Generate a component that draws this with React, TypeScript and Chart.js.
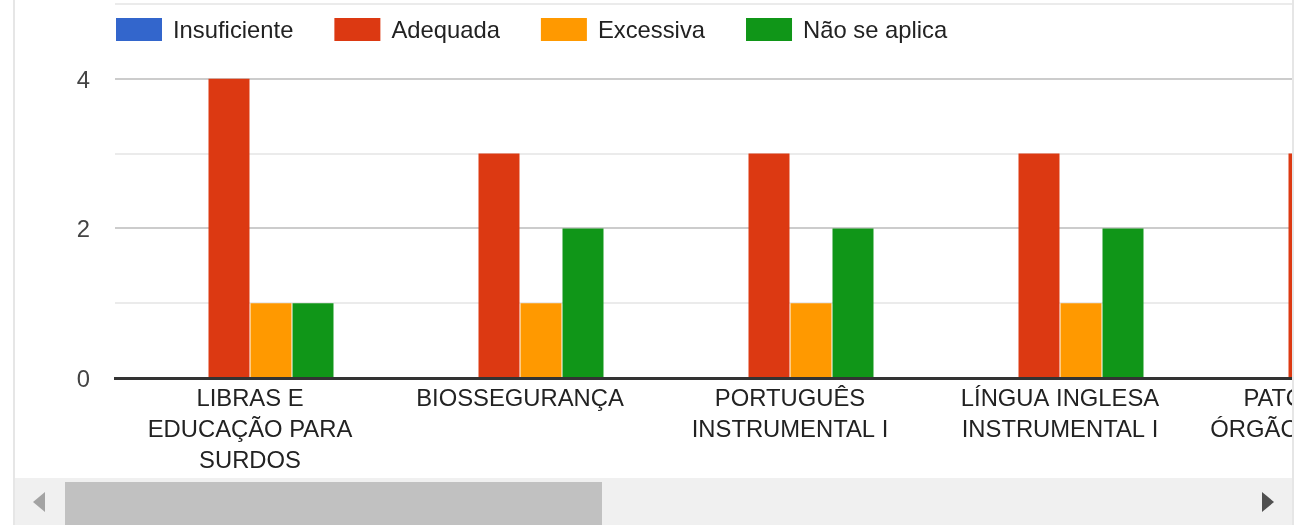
import React, { useEffect, useRef } from "react";
import { Chart, registerables } from "chart.js";

Chart.register(...registerables);

// ---- data ----
const categories: string[][] = [
  ["LIBRAS E", "EDUCAÇÃO PARA", "SURDOS"],
  ["BIOSSEGURANÇA"],
  ["PORTUGUÊS", "INSTRUMENTAL I"],
  ["LÍNGUA INGLESA", "INSTRUMENTAL I"],
  ["PATOLOGIA DE", "ÓRGÃOS E TECIDOS"],
];
const seriesNames = ["Insuficiente", "Adequada", "Excessiva", "Não se aplica"];
const insuficiente = [0, 0, 0, 0, 0];
const adequada = [4, 3, 3, 3, 3];
const excessiva = [1, 1, 1, 1, null];
const naoSeAplica = [1, 2, 2, 2, null];
const yTicks = [0, 2, 4];

const COLORS = ["#3366cc", "#dc3912", "#ff9900", "#109618"];
const FAMILY = "'Liberation Sans', Arial, Helvetica, sans-serif";
const FS = 23.8;

const legendPlugin = {
  id: "gLegend",
  afterDraw(chart: any) {
    const ctx = chart.ctx;
    ctx.save();
    ctx.font = `${FS}px ${FAMILY}`;
    ctx.textBaseline = "middle";
    ctx.textAlign = "left";
    let x = 101;
    const top = 18;
    chart.data.datasets.forEach((ds: any) => {
      ctx.fillStyle = ds.backgroundColor;
      ctx.fillRect(x, top, 46, 23);
      ctx.fillStyle = "#222222";
      ctx.fillText(ds.label, x + 57, top + 13);
      x += 57 + ctx.measureText(ds.label).width + 41;
    });
    ctx.restore();
  },
};

function BarChart() {
  const ref = useRef<HTMLCanvasElement | null>(null);
  useEffect(() => {
    if (!ref.current) return;
    const values = [insuficiente, adequada, excessiva, naoSeAplica];
    const chart = new Chart(ref.current, {
      type: "bar",
      data: {
        labels: categories,
        datasets: seriesNames.map((name, i) => ({
          label: name,
          data: values[i] as any,
          backgroundColor: COLORS[i],
          borderWidth: 0,
          categoryPercentage: 0.6222,
          barPercentage: 0.976,
        })),
      },
      options: {
        responsive: false,
        animation: false,
        layout: { padding: { top: 4, left: 0, right: 0, bottom: 0 } },
        plugins: {
          legend: { display: false },
          tooltip: { enabled: false },
        },
        scales: {
          x: {
            afterFit: (s: any) => {
              s.height = 100;
              s.paddingLeft = 0;
              s.paddingRight = 0;
            },
            grid: { display: false, drawTicks: false },
            border: { display: true, color: "#333333", width: 3, z: 1 },
            ticks: {
              color: "#222222",
              padding: 6.5,
              maxRotation: 0,
              autoSkip: false,
              font: { family: FAMILY, size: FS, lineHeight: 1.285 },
            },
          },
          y: {
            min: 0,
            max: 5,
            afterFit: (s: any) => {
              s.width = 100;
              s.paddingTop = 0;
              s.paddingBottom = 0;
            },
            border: { display: false },
            grid: {
              drawTicks: false,
              lineWidth: 2,
              color: (c: any) =>
                c.tick && c.tick.value === 0
                  ? "#333333"
                  : c.tick && c.tick.value % 2 === 0
                  ? "#cccccc"
                  : "#ebebeb",
            },
            ticks: {
              stepSize: 1,
              padding: 25,
              labelOffset: 2.5,
              color: "#444444",
              font: { family: FAMILY, size: FS },
              callback: (v: any) => (yTicks.includes(Number(v)) ? String(v) : ""),
            },
          },
        },
      },
      plugins: [legendPlugin],
    });
    return () => chart.destroy();
  }, []);
  return <canvas ref={ref} width={1450} height={478} style={{ display: "block" }} />;
}

export default function App() {
  return (
    <div
      style={{
        position: "fixed",
        left: 0,
        top: 0,
        width: 1296,
        height: 525,
        background: "#ffffff",
        overflow: "hidden",
      }}
    >
      <div style={{ position: "absolute", left: 13, top: 0, width: 2, height: 525, background: "#e6e6e6" }} />
      <div style={{ position: "absolute", left: 1292, top: 0, width: 2, height: 525, background: "#e6e6e6" }} />
      <div style={{ position: "absolute", left: 15, top: 0, width: 1277, height: 478, overflow: "hidden" }}>
        <BarChart />
      </div>
      <div style={{ position: "absolute", left: 15, top: 478, width: 1277, height: 47, background: "#f0f0f0" }}>
        <div style={{ position: "absolute", left: 50, top: 4, width: 537, height: 43, background: "#c1c1c1" }} />
        <div
          style={{
            position: "absolute",
            left: 18,
            top: 14,
            width: 0,
            height: 0,
            borderTop: "10.5px solid transparent",
            borderBottom: "10.5px solid transparent",
            borderRight: "12px solid #a3a3a3",
          }}
        />
        <div
          style={{
            position: "absolute",
            left: 1247,
            top: 14,
            width: 0,
            height: 0,
            borderTop: "10.5px solid transparent",
            borderBottom: "10.5px solid transparent",
            borderLeft: "12px solid #505050",
          }}
        />
      </div>
    </div>
  );
}
